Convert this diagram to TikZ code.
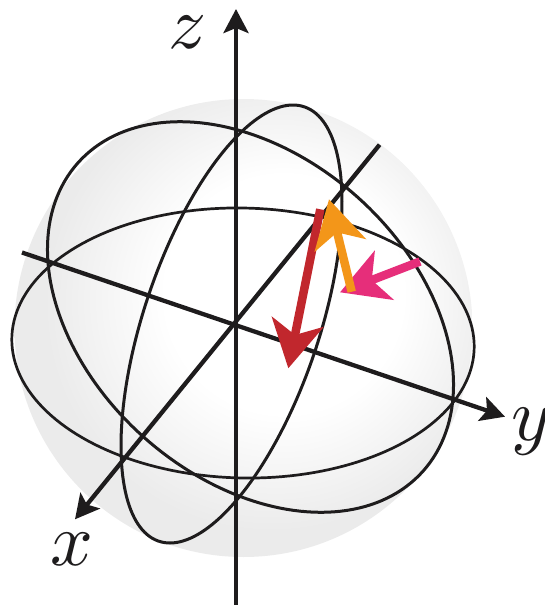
\documentclass[tikz,border=0pt]{standalone}
\usetikzlibrary{arrows.meta}
\definecolor{ink}{RGB}{30,28,29}
\definecolor{redarr}{RGB}{193,39,45}
\definecolor{orarr}{RGB}{243,150,25}
\definecolor{pkarr}{RGB}{230,46,122}
\pgfdeclareradialshading{sphereshade}{\pgfpoint{6bp}{5bp}}{color(0bp)=(white); color(13bp)=(white); color(25bp)=(black!8); color(50bp)=(black!8)}
\begin{document}
\begin{tikzpicture}[x=1pt,y=-1pt,
  circ/.style={draw=ink, line width=3pt, line join=round},
  axisline/.style={draw=ink, line width=4.3pt, -{Stealth[length=24pt,width=25pt,inset=5pt]}},
  vec/.style={line width=8.5pt, -{Stealth[length=47pt,width=52pt,inset=13pt]}},
  lab/.style={inner sep=0pt, scale=7.5, text=ink}]
\useasboundingbox (0,0) rectangle (545,605);
% sphere
\shade[shading=sphereshade] (243.5,328) circle (229pt);
% great circles
\draw[circ, line width=2.7pt] plot[variable=\t, domain=0:360, samples=181] ({243+231.2*cos(\t)}, {343+3.4*cos(\t)+135*sin(\t)}) -- cycle;
\draw[circ] plot[variable=\t, domain=0:360, samples=181] ({250.5-70.5*cos(\t)+190.4*sin(\t)}, {317-195.3*cos(\t)}) -- cycle;
\draw[circ] plot[variable=\t, domain=0:360, samples=181] ({231.5+61.5*cos(\t)+91.8*sin(\t)}, {324-219*cos(\t)}) -- cycle;
% axes
\coordinate (zs) at (236,605); \coordinate (ze) at (236,9);
\coordinate (ys) at (22,252.5); \coordinate (ye) at (505,416.7);
\coordinate (xs) at (379.6,144.7); \coordinate (xe) at (75,519.3);
\draw[axisline] (zs) -- (ze);
\draw[axisline] (ys) -- (ye);
\draw[axisline] (xs) -- (xe);
% vectors
\coordinate (ra) at (320.3,209.3); \coordinate (rb) at (288.3,368.3);
\coordinate (oa) at (351.7,291.7); \coordinate (ob) at (329,199.3);
\coordinate (pa) at (420,261.5); \coordinate (pb) at (340,292.3);
\draw[vec, pkarr] (pa) -- (pb);
\draw[vec, redarr] (ra) -- (rb);
\draw[vec, orarr] (oa) -- (ob);
% labels
\node[lab] (zl) at (187.5,32) {$z$};
\node[lab] (xl) at (72,549) {$x$};
\node[lab] (yl) at (531,432) {$y$};
\end{tikzpicture}
\end{document}
